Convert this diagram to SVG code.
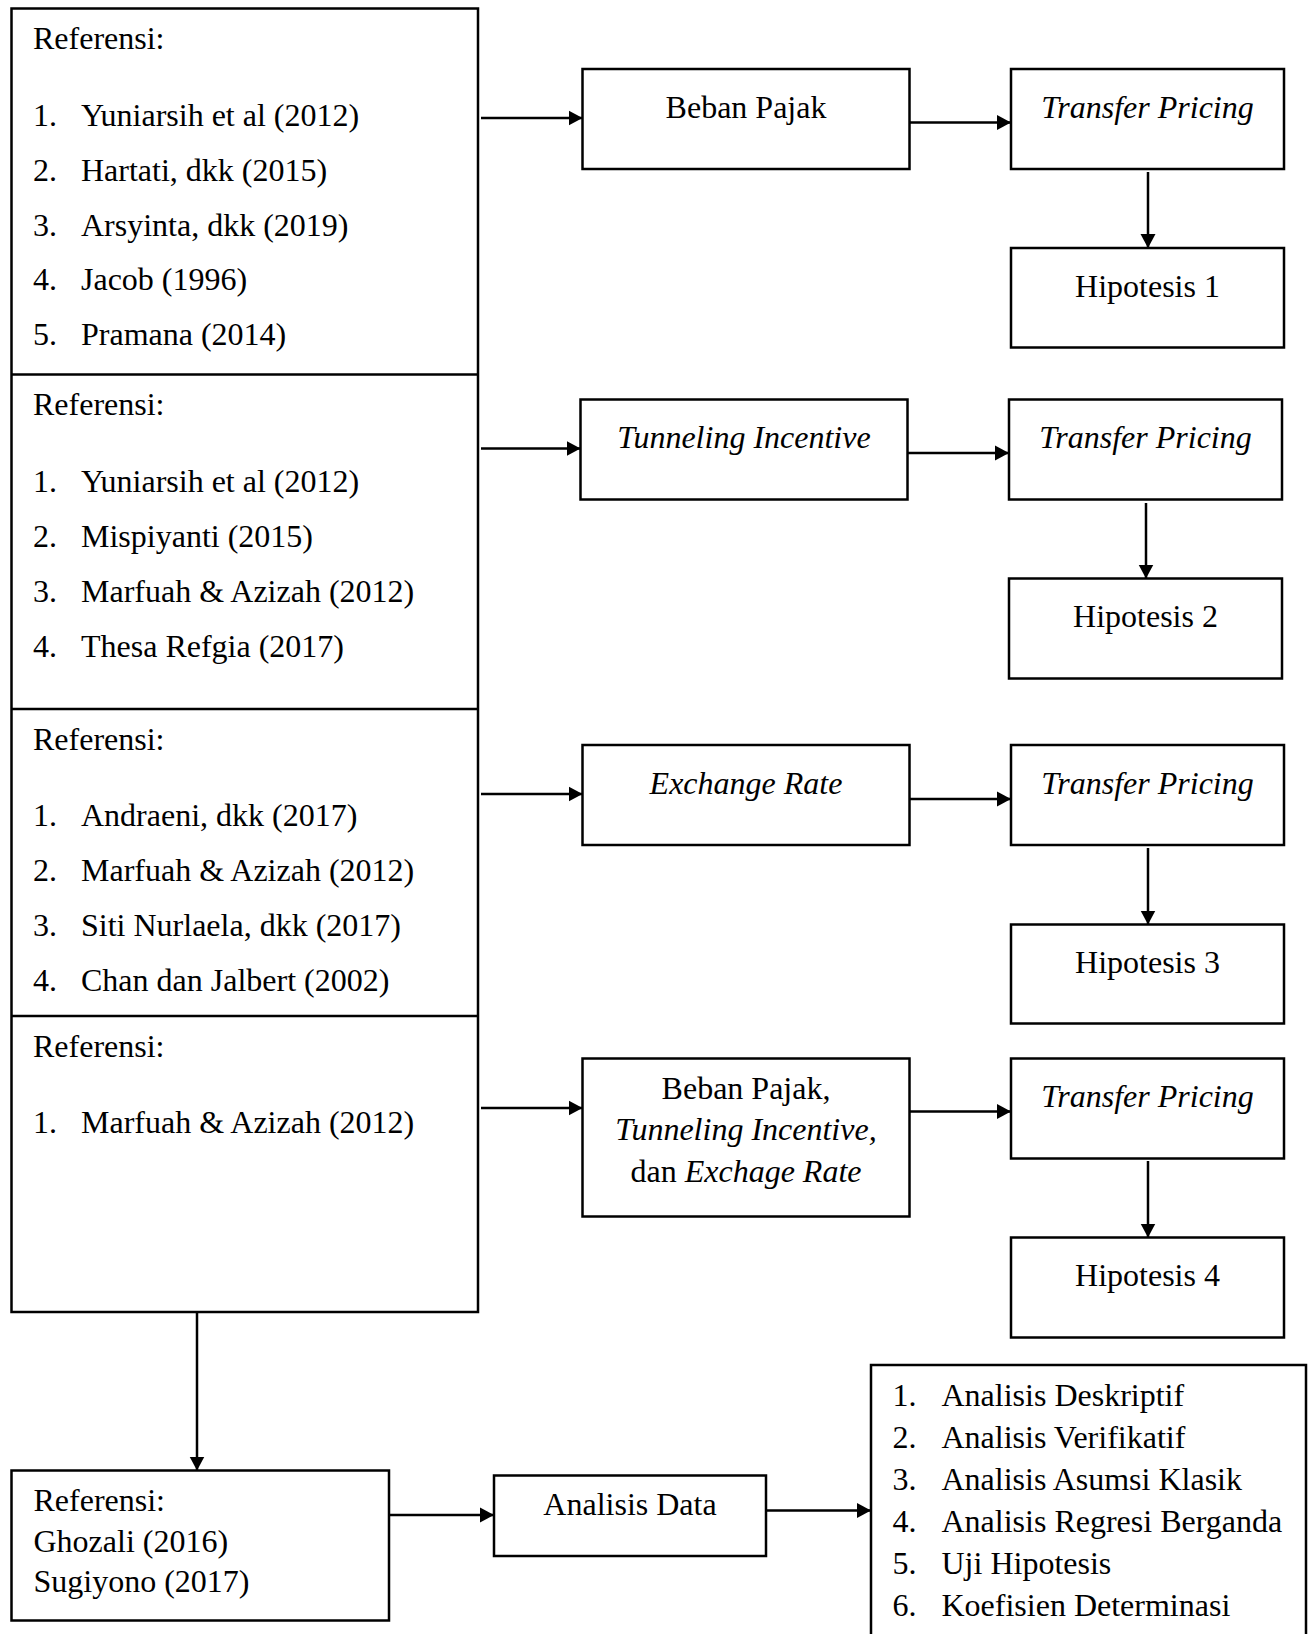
<svg xmlns="http://www.w3.org/2000/svg" width="1312" height="1634" viewBox="0 0 1312 1634">
<style>
.b{fill:#fff;stroke:#000;stroke-width:2.5}
.l{fill:none;stroke:#000;stroke-width:2.5}
.c{stroke:#000;stroke-width:2.5;fill:none;marker-end:url(#ah)}
text{font-family:"Liberation Serif","Times New Roman",serif;font-size:32px;fill:#000}
.m{text-anchor:middle}
.i{font-style:italic}
</style>
<defs>
<marker id="ah" markerUnits="userSpaceOnUse" markerWidth="15" markerHeight="16" refX="14" refY="8" orient="auto" viewBox="0 0 15 16">
<path d="M0,0.5 L14,8 L0,15.5 z" fill="#000"/>
</marker>
</defs>
<rect width="1312" height="1634" fill="#fff"/>

<g id="refs">
<rect class="b" x="11.5" y="8.5" width="466.5" height="1303.5"/>
<line class="l" x1="11.5" y1="374.5" x2="478" y2="374.5"/>
<line class="l" x1="11.5" y1="709" x2="478" y2="709"/>
<line class="l" x1="11.5" y1="1016" x2="478" y2="1016"/>
<g id="ref1">
<text x="33" y="49">Referensi:</text>
<text x="33" y="126">1.</text><text x="81" y="126">Yuniarsih et al (2012)</text>
<text x="33" y="181">2.</text><text x="81" y="181">Hartati, dkk (2015)</text>
<text x="33" y="235.5">3.</text><text x="81" y="235.5">Arsyinta, dkk (2019)</text>
<text x="33" y="290">4.</text><text x="81" y="290">Jacob (1996)</text>
<text x="33" y="345">5.</text><text x="81" y="345">Pramana (2014)</text>
</g>
<g id="ref2">
<text x="33" y="415">Referensi:</text>
<text x="33" y="491.5">1.</text><text x="81" y="491.5">Yuniarsih et al (2012)</text>
<text x="33" y="546.5">2.</text><text x="81" y="546.5">Mispiyanti (2015)</text>
<text x="33" y="601.5">3.</text><text x="81" y="601.5">Marfuah &amp; Azizah (2012)</text>
<text x="33" y="656.5">4.</text><text x="81" y="656.5">Thesa Refgia (2017)</text>
</g>
<g id="ref3">
<text x="33" y="750">Referensi:</text>
<text x="33" y="825.5">1.</text><text x="81" y="825.5">Andraeni, dkk (2017)</text>
<text x="33" y="880.5">2.</text><text x="81" y="880.5">Marfuah &amp; Azizah (2012)</text>
<text x="33" y="935.5">3.</text><text x="81" y="935.5">Siti Nurlaela, dkk (2017)</text>
<text x="33" y="990.5">4.</text><text x="81" y="990.5">Chan dan Jalbert (2002)</text>
</g>
<g id="ref4">
<text x="33" y="1057">Referensi:</text>
<text x="33" y="1133">1.</text><text x="81" y="1133">Marfuah &amp; Azizah (2012)</text>
</g>
</g>

<g id="beban">
<rect class="b" x="582.5" y="69" width="327" height="100"/>
<text class="m" x="746" y="118">Beban Pajak</text>
</g>
<g id="tp1">
<rect class="b" x="1011" y="69" width="273" height="100"/>
<text class="m i" x="1147.5" y="118">Transfer Pricing</text>
</g>
<g id="h1">
<rect class="b" x="1011" y="248" width="273" height="99.5"/>
<text class="m" x="1147.5" y="296.5">Hipotesis 1</text>
</g>

<g id="tunneling">
<rect class="b" x="580.5" y="399.5" width="327" height="100"/>
<text class="m i" x="744" y="448">Tunneling Incentive</text>
</g>
<g id="tp2">
<rect class="b" x="1009" y="399.5" width="273" height="100"/>
<text class="m i" x="1145.5" y="448">Transfer Pricing</text>
</g>
<g id="h2">
<rect class="b" x="1009" y="578.5" width="273" height="100"/>
<text class="m" x="1145.5" y="627">Hipotesis 2</text>
</g>

<g id="exchange">
<rect class="b" x="582.5" y="745" width="327" height="100"/>
<text class="m i" x="746" y="794">Exchange Rate</text>
</g>
<g id="tp3">
<rect class="b" x="1011" y="745" width="273" height="100"/>
<text class="m i" x="1147.5" y="794">Transfer Pricing</text>
</g>
<g id="h3">
<rect class="b" x="1011" y="924.5" width="273" height="99"/>
<text class="m" x="1147.5" y="973">Hipotesis 3</text>
</g>

<g id="combined">
<rect class="b" x="582.5" y="1058.5" width="327" height="158"/>
<text class="m" x="746" y="1099">Beban Pajak,</text>
<text class="m i" x="746" y="1140">Tunneling Incentive,</text>
<text class="m" x="746" y="1181.5">dan <tspan class="i">Exchage Rate</tspan></text>
</g>
<g id="tp4">
<rect class="b" x="1011" y="1058.5" width="273" height="100"/>
<text class="m i" x="1147.5" y="1107">Transfer Pricing</text>
</g>
<g id="h4">
<rect class="b" x="1011" y="1237.5" width="273" height="100"/>
<text class="m" x="1147.5" y="1286">Hipotesis 4</text>
</g>

<g id="refmetode">
<rect class="b" x="11.5" y="1470.5" width="377.5" height="150"/>
<text x="33.5" y="1511">Referensi:</text>
<text x="33.5" y="1551.5">Ghozali (2016)</text>
<text x="33.5" y="1591.5">Sugiyono (2017)</text>
</g>
<g id="analisis">
<rect class="b" x="494" y="1475.5" width="272" height="80.5"/>
<text class="m" x="630" y="1515">Analisis Data</text>
</g>
<g id="metode">
<rect class="b" x="871" y="1365" width="435" height="280"/>
<text x="892.5" y="1406">1.</text><text x="941.5" y="1406">Analisis Deskriptif</text>
<text x="892.5" y="1448">2.</text><text x="941.5" y="1448">Analisis Verifikatif</text>
<text x="892.5" y="1490">3.</text><text x="941.5" y="1490">Analisis Asumsi Klasik</text>
<text x="892.5" y="1532">4.</text><text x="941.5" y="1532">Analisis Regresi Berganda</text>
<text x="892.5" y="1574">5.</text><text x="941.5" y="1574">Uji Hipotesis</text>
<text x="892.5" y="1616">6.</text><text x="941.5" y="1616">Koefisien Determinasi</text>
</g>

<g id="connectors">
<line class="c" x1="481" y1="118" x2="582.5" y2="118"/>
<line class="c" x1="909.5" y1="122.5" x2="1011" y2="122.5"/>
<line class="c" x1="1148" y1="172" x2="1148" y2="248"/>
<line class="c" x1="481" y1="448.5" x2="580.5" y2="448.5"/>
<line class="c" x1="907.5" y1="453" x2="1009" y2="453"/>
<line class="c" x1="1146" y1="503" x2="1146" y2="578.5"/>
<line class="c" x1="481" y1="794" x2="582.5" y2="794"/>
<line class="c" x1="909.5" y1="799" x2="1011" y2="799"/>
<line class="c" x1="1148" y1="848" x2="1148" y2="924.5"/>
<line class="c" x1="481" y1="1108" x2="582.5" y2="1108"/>
<line class="c" x1="909.5" y1="1111.5" x2="1011" y2="1111.5"/>
<line class="c" x1="1148" y1="1161" x2="1148" y2="1237.5"/>
<line class="c" x1="197" y1="1312" x2="197" y2="1470.5"/>
<line class="c" x1="389" y1="1515" x2="494" y2="1515"/>
<line class="c" x1="766" y1="1510.5" x2="871" y2="1510.5"/>
</g>
</svg>
